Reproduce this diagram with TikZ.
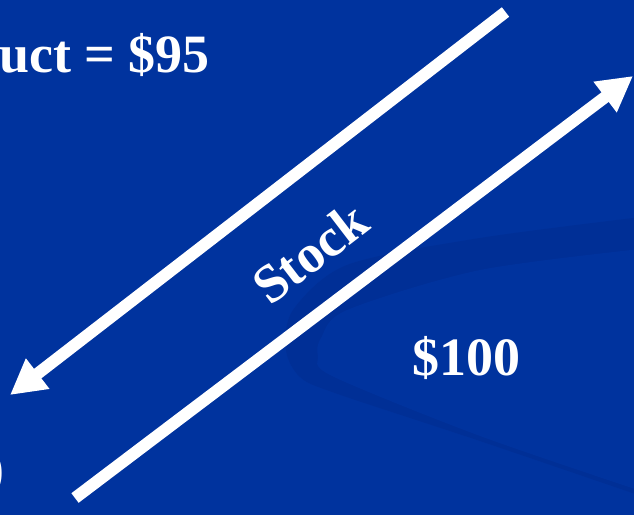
\documentclass[tikz,border=0pt]{standalone}
\usepackage{fontspec}
\setmainfont{Liberation Serif}
\usetikzlibrary{arrows.meta}
\definecolor{bgblue}{RGB}{0,51,158}
\definecolor{bandblue}{RGB}{0,47,150}
\tikzset{
  bigtext/.style={text=white, inner sep=0pt, font=\bfseries\fontsize{54}{60}\selectfont},
  bigarrow/.style={draw=white, line width=12pt, -{Triangle[length=35pt,width=36pt]}}
}
\begin{document}
\begin{tikzpicture}[x=1pt,y=-1pt]
\useasboundingbox (0,0) rectangle (634,515);
\clip (0,0) rectangle (634,515);
\fill[bgblue] (0,0) rectangle (634,515);
% swoosh
\fill[bandblue] plot[smooth] coordinates {(650,216) (480,238) (347,265) (293,310) (286,350) (300,377) (335,393) (480,441) (650,499)} -- cycle;
\fill[bgblue] plot[smooth] coordinates {(650,248) (480,270) (347,310) (321,338) (318,356) (332,376) (480,436) (650,494)} -- cycle;
% texts
\node[bigtext, anchor=base west] (price) at (-1,72) {uct = \$95};
\node[bigtext, anchor=base west] (hundred) at (412,375) {\$100};
\node[bigtext, rotate=37.5] (stock) at (310,253) {Stock};
\node[bigtext, anchor=base east] (paren) at (5,486) {)};
% arrows
\coordinate (a1s) at (505.5,12);
\coordinate (a1e) at (10,395);
\coordinate (a2s) at (75,498);
\coordinate (a2e) at (633,76);
\draw[bigarrow] (a1s) -- (a1e);
\draw[bigarrow] (a2s) -- (a2e);
\end{tikzpicture}
\end{document}
